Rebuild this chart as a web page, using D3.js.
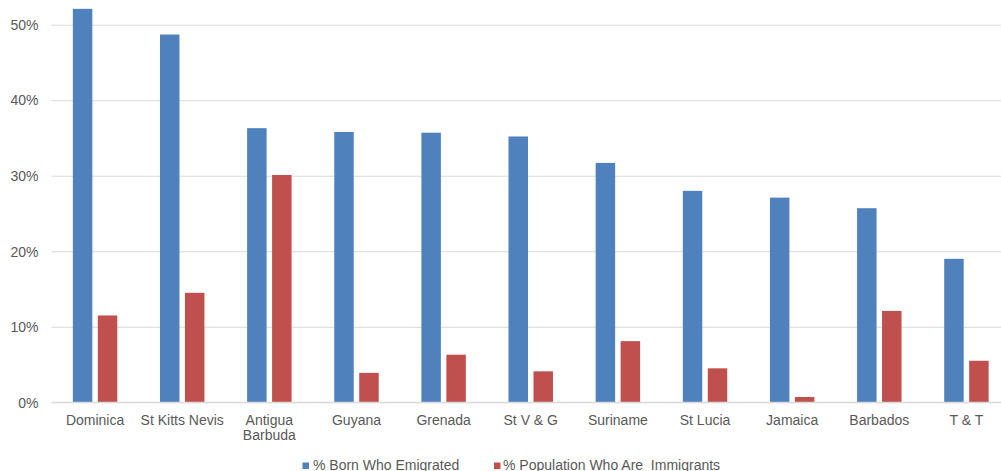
<!DOCTYPE html>
<html>
<head>
<meta charset="utf-8">
<script src="https://cdn.jsdelivr.net/npm/d3@7"></script>
<style>
  html, body { margin: 0; padding: 0; background: #ffffff; overflow: hidden; }
  svg { display: block; }
  text { font-family: "Liberation Sans", Arial, sans-serif; fill: #595959; }
</style>
</head>
<body>
<svg id="chart" width="1001" height="471"></svg>
<script>
const categories = ["Dominica", "St Kitts Nevis", "Antigua\nBarbuda", "Guyana", "Grenada", "St V & G", "Suriname", "St Lucia", "Jamaica", "Barbados", "T & T"];
const bornWhoEmigrated = [52.1, 48.7, 36.3, 35.8, 35.7, 35.2, 31.7, 28.0, 27.1, 25.7, 19.0];
const populationImmigrants = [11.5, 14.5, 30.1, 3.9, 6.3, 4.1, 8.1, 4.5, 0.7, 12.1, 5.5];
const seriesNames = ["% Born Who Emigrated", "% Population Who Are  Immigrants"];
const seriesColors = ["#4f81bd", "#c0504d"];
const yTicks = [0, 10, 20, 30, 40, 50];

const svg = d3.select("#chart");
const W = 1001, H = 471;
const plotLeft = 51.5, plotRight = 1010, y0 = 402.3, y50 = 24.7;

const x0 = d3.scaleBand().domain(categories).range([plotLeft, plotRight]).paddingInner(0.49).paddingOuter(0.245);
const x1 = d3.scaleBand().domain(seriesNames).range([0, x0.bandwidth()]).paddingInner(0.22);
const y = d3.scaleLinear().domain([0, 50]).range([y0, y50]);
const color = d3.scaleOrdinal().domain(seriesNames).range(seriesColors);

// gridlines
const yAxis = d3.axisLeft(y).tickValues(yTicks).tickSize(-(W - plotLeft)).tickFormat(d => d + "%").tickPadding(14);
const gy = svg.append("g").attr("transform", `translate(${plotLeft},0)`).call(yAxis);
gy.select(".domain").remove();
gy.selectAll(".tick line").attr("stroke", "#d9d9d9").attr("stroke-width", 1);
gy.selectAll(".tick text").attr("font-size", "14px").attr("fill", "#595959").attr("x", -13).attr("dy", "0.34em")
  .style("font-family", "'Liberation Sans', Arial, sans-serif");

// bars
const rows = categories.map((c, i) => ({ cat: c, vals: [bornWhoEmigrated[i], populationImmigrants[i]] }));
const groups = svg.append("g").selectAll("g").data(rows).join("g")
  .attr("transform", d => `translate(${x0(d.cat)},0)`);
groups.selectAll("rect").data(d => d.vals.map((v, j) => ({ key: seriesNames[j], v })))
  .join("rect")
  .attr("x", d => x1(d.key))
  .attr("width", x1.bandwidth())
  .attr("y", d => y(d.v))
  .attr("height", d => y0 - y(d.v))
  .attr("fill", d => color(d.key));

// x axis line
svg.append("line").attr("x1", plotLeft).attr("x2", W).attr("y1", y0).attr("y2", y0)
  .attr("stroke", "#d9d9d9").attr("stroke-width", 1.2);

// x axis labels
const xAxis = d3.axisBottom(x0).tickSize(0).tickFormat("");
const gx = svg.append("g").attr("transform", `translate(0,${y0})`).call(xAxis);
gx.select(".domain").remove();
gx.selectAll(".tick").each(function(d) {
  const lines = d.split("\n");
  const t = d3.select(this).append("text").attr("text-anchor", "middle").attr("font-size", "14px").attr("fill", "#595959");
  lines.forEach((ln, k) => {
    t.append("tspan").attr("x", 0).attr("y", 22.5 + k * 15.5).text(ln);
  });
});

// legend
const legendItems = [
  { name: seriesNames[0], sx: 302.5, tx: 313 },
  { name: seriesNames[1], sx: 494, tx: 503 }
];
const lg = svg.append("g");
legendItems.forEach(it => {
  lg.append("rect").attr("x", it.sx).attr("y", 462.5).attr("width", 6.5).attr("height", 6.5).attr("fill", color(it.name));
  lg.append("text").attr("x", it.tx).attr("y", 469.5).attr("font-size", "14px").attr("fill", "#595959")
    .attr("xml:space", "preserve").style("white-space", "pre").text(it.name);
});
</script>
</body>
</html>
